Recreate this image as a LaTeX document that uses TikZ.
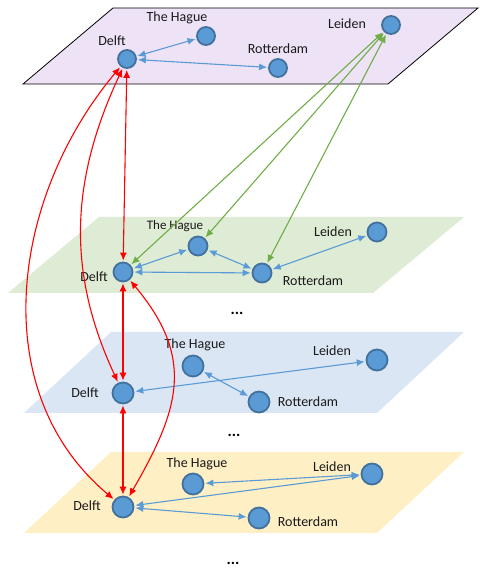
\documentclass[tikz,border=0pt]{standalone}
\usepackage{fontspec}
\setmainfont{Carlito}
\usetikzlibrary{arrows.meta}
\definecolor{cityblue}{HTML}{5B9BD5}
\definecolor{cityedge}{HTML}{41719C}
\definecolor{linkgreen}{HTML}{70AD47}
\definecolor{planepurple}{HTML}{EEE2F7}
\definecolor{planegreen}{HTML}{DEEBD5}
\definecolor{planeblue}{HTML}{DAE6F3}
\definecolor{planeyellow}{HTML}{FFEFC5}
\definecolor{labelgray}{HTML}{1A1A1A}
\tikzstyle{city}=[circle,fill=cityblue,draw=cityedge,line width=1.8pt,minimum size=19pt,inner sep=0pt]
\tikzstyle{cityname}=[font=\fontsize{14}{16}\selectfont,text=labelgray,inner sep=0pt]
\tikzstyle{dots}=[font=\fontsize{16}{18}\selectfont\bfseries,inner sep=0pt]
\tikzstyle{link}=[cityblue,line width=1.1pt,{Latex[length=8pt,width=7pt]}-{Latex[length=8pt,width=7pt]},shorten <=1pt,shorten >=1pt]
\tikzstyle{interlink}=[link,linkgreen]
\tikzstyle{selflink}=[link,red]
\newcommand{\drawplane}[7][draw=none]{ % [options] {fill} {bottom left x} {bottom right x} {bottom y} {top y} {top shift}
  \path[fill=#2,#1] (#3,#5) -- (#4,#5) -- ({#4+#7},#6) -- ({#3+#7},#6) -- cycle;
}
\newcommand{\newcity}[5][19pt]{ % [size] {name} {position} {label position} {label}
  \node[city,minimum size=#1] (#2) at (#3) {};
  \node[cityname] (#2-name) at (#4) {#5};
}

\begin{document}
\begin{tikzpicture}[x=1pt,y=1pt]
\useasboundingbox (0,0) rectangle (480,569);
% planes
\drawplane[draw=black,line width=0.8pt]{planepurple}{23}{388}{485}{561}{90}
\drawplane{planegreen}{8}{373}{276}{352}{91}
\drawplane{planeblue}{24}{377}{156}{237}{87}
\drawplane{planeyellow}{24}{377}{36}{117}{87}
% top layer
\newcity[18pt]{delft1}{127,510}{112,528}{Delft}
\newcity[18pt]{hague1}{206,533}{177,551}{The Hague}
\newcity[18pt]{rotterdam1}{278,501}{278,520}{Rotterdam}
\newcity[18pt]{leiden1}{391,544}{347,545}{Leiden}
% second layer
\newcity{delft2}{123,297}{94,292}{Delft}
\newcity{hague2}{198,323}{175,343}{\fontsize{13}{15}\selectfont The Hague}
\newcity{rotterdam2}{262,296}{313,288}{Rotterdam}
\newcity{leiden2}{377,337}{333,337}{Leiden}
% third layer
\newcity[21pt]{delft3}{123,176}{85,176}{Delft}
\newcity[21pt]{hague3}{193,203}{195,224}{The Hague}
\newcity[21pt]{rotterdam3}{259,167}{308,167}{Rotterdam}
\newcity[21pt]{leiden3}{377,209}{332,218}{Leiden}
% fourth layer
\newcity[21pt]{delft4}{123,62}{87,63}{Delft}
\newcity[21pt]{hague4}{193,85}{197,105}{The Hague}
\newcity[21pt]{rotterdam4}{259,51}{308,47}{Rotterdam}
\newcity[21pt]{leiden4}{372,95}{332,102}{Leiden}
% more layers
\node[dots] (gap1) at (237,256) {...};
\node[dots] (gap2) at (234,134) {...};
\node[dots] (gap3) at (233,6) {...};
% links inside the layers
\draw[link] (delft1) -- (hague1);
\draw[link] (delft1) -- (rotterdam1);
\draw[link] (delft2) -- (hague2);
\draw[link] (delft2) -- (rotterdam2);
\draw[link] (hague2) -- (rotterdam2);
\draw[link] (rotterdam2) -- (leiden2);
\draw[link] (delft3) -- (leiden3);
\draw[link] (hague3) -- (rotterdam3);
\draw[link] (hague4) -- (leiden4);
\draw[link] (delft4) -- (leiden4);
\draw[link] (delft4) -- (rotterdam4);
% links between the layers
\draw[interlink] (leiden1) -- (delft2);
\draw[interlink] (leiden1) -- (hague2);
\draw[interlink] (leiden1) -- (rotterdam2);
\draw[selflink] (delft1) -- (delft2);
\draw[selflink] (delft2) -- (delft3);
\draw[selflink] (delft3) -- (delft4);
\draw[selflink] (delft1) to[out=245,in=115] (delft3);
\draw[selflink] (delft1) to[out=230,in=140] (delft4);
\draw[selflink] (delft2) to[out=-50,in=60,looseness=1.2] (delft4);
\end{tikzpicture}
\end{document}
